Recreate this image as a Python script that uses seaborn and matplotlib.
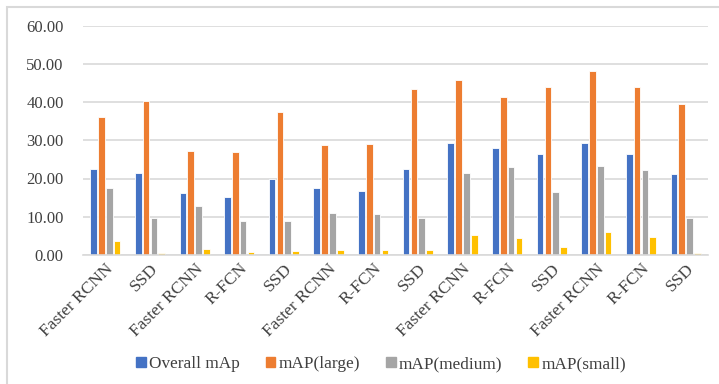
import numpy as np
import pandas as pd
import matplotlib
matplotlib.use("Agg")
import matplotlib.pyplot as plt
import matplotlib.patches as mpatches
import seaborn as sns

# 数据
models = ["Faster RCNN", "SSD", "Faster RCNN", "R-FCN", "SSD", "Faster RCNN", "R-FCN",
          "SSD", "Faster RCNN", "R-FCN", "SSD", "Faster RCNN", "R-FCN", "SSD"]
overall = [22.5, 21.4, 16.1, 15.1, 19.9, 17.6, 16.8, 22.6, 29.4, 27.9, 26.4, 29.4, 26.4, 21.1]
large = [36.0, 40.2, 27.3, 26.8, 37.4, 28.8, 29.0, 43.4, 45.8, 41.4, 44.0, 48.2, 43.8, 39.6]
medium = [17.4, 9.6, 12.9, 9.0, 9.0, 10.9, 10.8, 9.6, 21.5, 23.0, 16.5, 23.3, 22.2, 9.8]
small = [3.7, 0.5, 1.5, 0.9, 1.1, 1.4, 1.3, 1.3, 5.2, 4.5, 2.1, 6.0, 4.7, 0.5]
series_names = ["Overall mAp", "mAP(large)", "mAP(medium)", "mAP(small)"]
colors = ["#4472C4", "#ED7D31", "#A5A5A5", "#FFC000"]

rows = []
for name, vals in zip(series_names, [overall, large, medium, small]):
    for i, v in enumerate(vals):
        rows.append({"pos": i, "metric": name, "value": v})
df = pd.DataFrame(rows)

sns.set_style("white")
plt.rcParams["font.family"] = ["Liberation Serif", "DejaVu Serif"]

fig = plt.figure(figsize=(7.19, 3.84), dpi=100)
ax = fig.add_axes([83 / 719, 1 - 255 / 384, 625 / 719, 229.5 / 384])

sns.barplot(data=df, x="pos", y="value", hue="metric", hue_order=series_names,
            palette=colors, width=0.7, gap=0.15, ax=ax, legend=False,
            edgecolor="white", linewidth=0.6, saturation=1)

ax.set_ylim(0, 60)
ax.set_xlim(-0.5, len(models) - 0.5)
ax.set_yticks(np.arange(0, 61, 10))
ax.set_yticklabels([f"{v:.2f}" for v in np.arange(0, 61, 10)], fontsize=12, color="#404040")
ax.yaxis.grid(True, color="#D9D9D9", linewidth=1.2)
ax.set_axisbelow(True)
ax.tick_params(axis="y", length=0, pad=14)
ax.tick_params(axis="x", length=0, pad=4)
ax.set_xticks(range(len(models)))
ax.set_xticklabels(models, rotation=45, ha="right", rotation_mode="anchor",
                   fontsize=12.5, color="#404040")
ax.set_xlabel("")
ax.set_ylabel("")
for s in ["left", "right", "top"]:
    ax.spines[s].set_visible(False)
ax.spines["bottom"].set_color("#D9D9D9")
ax.spines["bottom"].set_linewidth(1.2)

# 图例
handles = [mpatches.Patch(color=c, label=n) for c, n in zip(colors, series_names)]
fig.legend(handles=handles, loc="center", bbox_to_anchor=(0.53, 0.052), ncol=4,
           frameon=False, fontsize=12.4, handlelength=0.55, handleheight=0.55,
           handletextpad=0.2, columnspacing=1.5, labelcolor="#404040")

# 外框
fig.patches.append(mpatches.Rectangle((7 / 719, -0.05), 1.1, 1 - 7 / 384 + 0.05,
                                      transform=fig.transFigure, fill=False,
                                      edgecolor="#D9D9D9", linewidth=1.5))

fig.savefig("out.png", dpi=100)
